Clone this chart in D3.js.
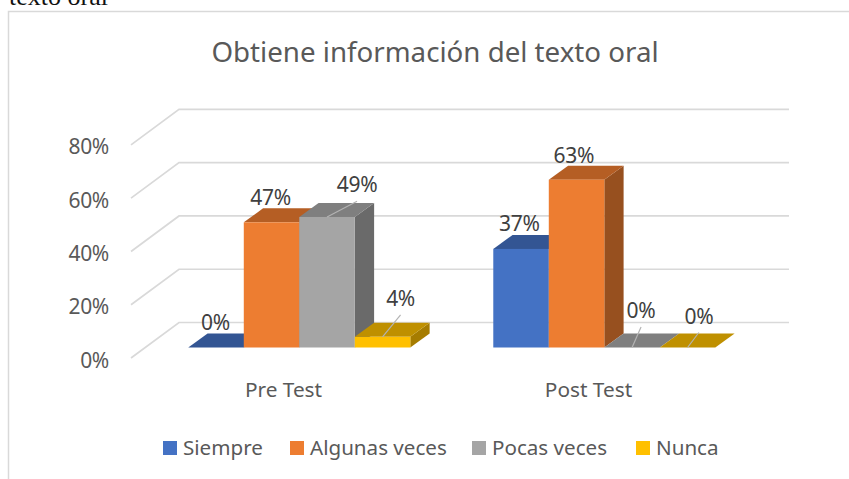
<!DOCTYPE html>
<html lang="es">
<head>
<meta charset="utf-8">
<title>Obtiene información del texto oral</title>
<script src="https://d3js.org/d3.v7.min.js"></script>
<style>
  html, body { margin: 0; padding: 0; background: #fff; overflow: hidden; }
  svg { display: block; }
  svg text { font-family: "Noto Sans", sans-serif; fill: #595959; }
</style>
</head>
<body>
<script>
var categories = ["Pre Test", "Post Test"];
var seriesNames = ["Siempre", "Algunas veces", "Pocas veces", "Nunca"];
var siempre = [0, 37];
var algunasVeces = [47, 63];
var pocasVeces = [49, 0];
var nunca = [4, 0];
var yTicks = [0, 20, 40, 60, 80];
var seriesValues = [siempre, algunasVeces, pocasVeces, nunca];

// front, top, side for each series
var shades = [
  ["#4472C4", "#335593", "#2B4A80"],
  ["#ED7D31", "#B55E24", "#97501F"],
  ["#A5A5A5", "#7F7F7F", "#6A6A6A"],
  ["#FFC000", "#BF9000", "#A67C00"]
];

// hand placed data labels, offset from top centre of the bar: [series][category]
var labelShift = [
  [[-0.5, -25.5], [-1.7, -26]],
  [[-1, -25.5], [-2.7, -25]],
  [[30, -32.7], [9, -37.5]],
  [[18, -39], [11.3, -32]]
];

var width = 849, height = 479;
var depthX = 19.3, depthY = 14;   // depth of one bar
var wallX = 48, wallY = 35.5;     // depth of the floor

var svg = d3.select("body").append("svg")
  .attr("width", width)
  .attr("height", height);

// caption left over from the page above the chart, cut by the crop as in the original
svg.append("text")
  .attr("x", 9).attr("y", 5)
  .style("font-family", "'Liberation Serif', serif")
  .style("font-size", "26px")
  .style("fill", "#111")
  .text("texto oral");

// chart frame
svg.append("path")
  .attr("d", "M8.5,479V11.5H849")
  .attr("fill", "none")
  .attr("stroke", "#d9d9d9")
  .attr("stroke-width", 1.5);

svg.append("text")
  .attr("x", 435).attr("y", 62)
  .attr("text-anchor", "middle")
  .style("font-size", "27.7px")
  .text("Obtiene información del texto oral");

var y = d3.scaleLinear().domain([0, 80]).range([347.5, 134.4]);
var x0 = d3.scaleBand().domain(categories).range([131, 741])
  .paddingInner(0.272).paddingOuter(0.136);
var x1 = d3.scaleBand().domain(seriesNames).range([0, x0.bandwidth()]);
var barShiftX = 15.8;

// gridlines on the floor side and the back wall
var frontY = function(v) { return y(v) + 10.5; };
svg.append("g").selectAll("path")
  .data(yTicks)
  .enter().append("path")
  .attr("d", function(d) {
    return "M131," + frontY(d) + "L" + (131 + wallX) + "," + (frontY(d) - wallY) + "H789";
  })
  .attr("fill", "none")
  .attr("stroke", "#d9d9d9")
  .attr("stroke-width", 1.7);

// value axis labels
svg.append("g").selectAll("text")
  .data(yTicks)
  .enter().append("text")
  .attr("x", 109)
  .attr("y", function(d) { return frontY(d) + 9.5; })
  .attr("text-anchor", "end")
  .style("font-size", "21px")
  .style("letter-spacing", "-0.3px")
  .text(function(d) { return d + "%"; });

// category labels
svg.append("g").selectAll("text")
  .data(categories)
  .enter().append("text")
  .attr("x", function(d) { return x0(d) + x0.bandwidth() / 2; })
  .attr("y", 397)
  .attr("text-anchor", "middle")
  .style("font-size", "20.8px")
  .text(function(d) { return d; });

// bars, painted left to right so each one hides the side of the previous
categories.forEach(function(cat, c) {
  seriesNames.forEach(function(name, s) {
    var v = seriesValues[s][c];
    var left = x0(cat) + barShiftX + x1(name);
    var right = left + x1.bandwidth();
    var top = y(v), base = y(0);
    var g = svg.append("g");

    g.append("path")
      .attr("d", "M" + right + "," + top + "l" + depthX + "," + (-depthY) +
        "V" + (base - depthY) + "L" + right + "," + base + "Z")
      .attr("fill", shades[s][2]);
    g.append("path")
      .attr("d", "M" + left + "," + top + "l" + depthX + "," + (-depthY) +
        "H" + (right + depthX) + "L" + right + "," + top + "Z")
      .attr("fill", shades[s][1]);
    g.append("rect")
      .attr("x", left).attr("y", top)
      .attr("width", x1.bandwidth())
      .attr("height", base - top)
      .attr("fill", shades[s][0]);
  });
});

// data labels and their leader lines
categories.forEach(function(cat, c) {
  seriesNames.forEach(function(name, s) {
    var v = seriesValues[s][c];
    var cx = x0(cat) + barShiftX + x1(name) + x1.bandwidth() / 2;
    var shift = labelShift[s][c];
    var lx = cx + shift[0], ly = y(v) + shift[1];

    if (shift[0] > 5) {
      svg.append("line")
        .attr("x1", cx).attr("y1", y(v))
        .attr("x2", lx).attr("y2", ly + 17)
        .attr("stroke", "#b3b3b3")
        .attr("stroke-width", 1.2);
    }
    svg.append("text")
      .attr("x", lx).attr("y", ly + 8)
      .attr("text-anchor", "middle")
      .style("font-size", "21px")
      .style("letter-spacing", "-0.3px")
      .style("fill", "#404040")
      .text(v + "%");
  });
});

// legend
var legendX = [163, 290, 472, 636];
var legend = svg.append("g").selectAll("g")
  .data(seriesNames)
  .enter().append("g")
  .attr("transform", function(d, i) { return "translate(" + legendX[i] + ",441)"; });
legend.append("rect")
  .attr("width", 14).attr("height", 14)
  .attr("fill", function(d, i) { return shades[i][0]; });
legend.append("text")
  .attr("x", 20).attr("y", 14)
  .style("font-size", "20.6px")
  .text(function(d) { return d; });
</script>
</body>
</html>
